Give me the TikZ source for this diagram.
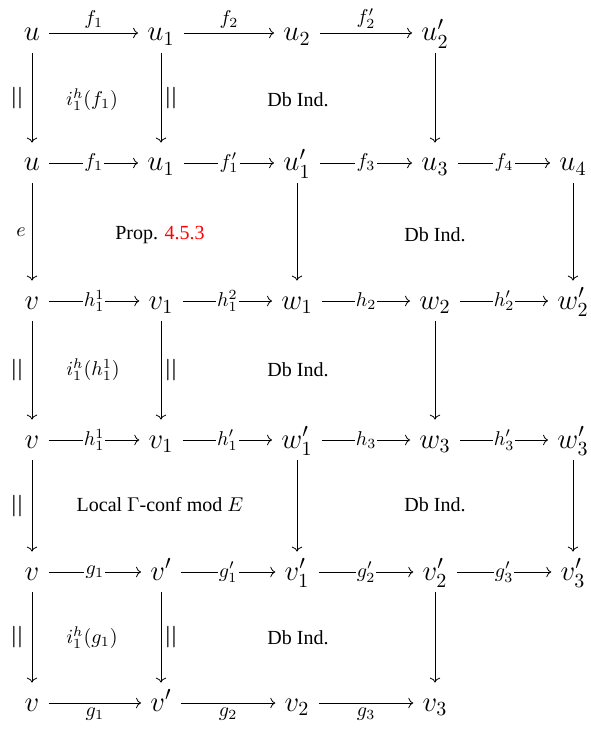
\documentclass[tikz,border=0pt]{standalone}
\usepackage[no-math]{fontspec}
\setmainfont{Liberation Serif}
\usepackage{graphicx}
\usetikzlibrary{arrows.meta}
\definecolor{refRed}{HTML}{FF0000}

\begin{document}
\begin{tikzpicture}[
  x=0.5pt, y=-0.5pt,
  >=To,
  obj/.style={inner xsep=4.5pt, inner ysep=2pt, font=\Large, text height=12pt, text depth=4pt},
  map/.style={->, thin},
  onlab/.style={fill=white, inner sep=0.6pt, font=\normalsize},
  offlab/.style={inner sep=2pt, font=\normalsize},
  eqlab/.style={inner sep=3pt, font=\LARGE},
  cell/.style={font=\normalsize}
]
\useasboundingbox (0,0) rectangle (590,731);

% row 0
\node[obj] (u0)  at (32,33)  {$u$};
\node[obj] (u1a) at (161,33) {$u_1$};
\node[obj] (u2)  at (297,33) {$u_2$};
\node[obj] (u2p) at (435,33) {$u_2'$};
% row 1
\node[obj] (u0b) at (32,163)  {$u$};
\node[obj] (u1b) at (161,163) {$u_1$};
\node[obj] (u1p) at (297,163) {$u_1'$};
\node[obj] (u3)  at (435,163) {$u_3$};
\node[obj] (u4)  at (573,163) {$u_4$};
% row 2
\node[obj] (v0)  at (32,301)  {$v$};
\node[obj] (v1)  at (161,301) {$v_1$};
\node[obj] (w1)  at (297,301) {$w_1$};
\node[obj] (w2)  at (435,301) {$w_2$};
\node[obj] (w2p) at (573,301) {$w_2'$};
% row 3
\node[obj] (v0b) at (32,440)  {$v$};
\node[obj] (v1b) at (161,440) {$v_1$};
\node[obj] (w1p) at (297,440) {$w_1'$};
\node[obj] (w3)  at (435,440) {$w_3$};
\node[obj] (w3p) at (573,440) {$w_3'$};
% row 4
\node[obj] (v0c) at (32,572)  {$v$};
\node[obj] (vp)  at (161,572) {$v'$};
\node[obj] (v1q) at (297,572) {$v_1'$};
\node[obj] (v2q) at (435,572) {$v_2'$};
\node[obj] (v3q) at (573,572) {$v_3'$};
% row 5
\node[obj] (v0d) at (32,703)  {$v$};
\node[obj] (vpb) at (161,703) {$v'$};
\node[obj] (v2)  at (297,703) {$v_2$};
\node[obj] (v3)  at (435,703) {$v_3$};

% cells
\node[cell] (c1) at (92,100)  {$i_1^h(f_1)$};
\node[cell] (c2) at (298,100) {Db Ind.};
\node[cell] (c3) at (160,235) {Prop. \textcolor{refRed}{4.5.3}};
\node[cell] (c4) at (435,235) {Db Ind.};
\node[cell] (c5) at (93,370)  {$i_1^h(h_1^1)$};
\node[cell] (c6) at (298,370) {Db Ind.};
\node[cell] (c7) at (160,505) {Local $\Gamma$-conf mod $E$};
\node[cell] (c8) at (435,505) {Db Ind.};
\node[cell] (c9) at (92,638)  {$i_1^h(g_1)$};
\node[cell] (c10) at (298,638) {Db Ind.};

% horizontal maps
\draw[map] (u0) -- node[above, offlab]{$f_1$} (u1a);
\draw[map] (u1a) -- node[above, offlab]{$f_2$} (u2);
\draw[map] (u2) -- node[above, offlab]{$f_2'$} (u2p);

\draw[map] (u0b) -- node[onlab]{$f_1$} (u1b);
\draw[map] (u1b) -- node[onlab]{$f_1'$} (u1p);
\draw[map] (u1p) -- node[onlab]{$f_3$} (u3);
\draw[map] (u3) -- node[onlab]{$f_4$} (u4);

\draw[map] (v0) -- node[onlab]{$h_1^1$} (v1);
\draw[map] (v1) -- node[onlab]{$h_1^2$} (w1);
\draw[map] (w1) -- node[onlab]{$h_2$} (w2);
\draw[map] (w2) -- node[onlab]{$h_2'$} (w2p);

\draw[map] (v0b) -- node[onlab]{$h_1^1$} (v1b);
\draw[map] (v1b) -- node[onlab]{$h_1'$} (w1p);
\draw[map] (w1p) -- node[onlab]{$h_3$} (w3);
\draw[map] (w3) -- node[onlab]{$h_3'$} (w3p);

\draw[map] (v0c) -- node[onlab]{$g_1$} (vp);
\draw[map] (vp) -- node[onlab]{$g_1'$} (v1q);
\draw[map] (v1q) -- node[onlab]{$g_2'$} (v2q);
\draw[map] (v2q) -- node[onlab]{$g_3'$} (v3q);

\draw[map] (v0d) -- node[below, offlab]{$g_1$} (vpb);
\draw[map] (vpb) -- node[below, offlab]{$g_2$} (v2);
\draw[map] (v2) -- node[below, offlab]{$g_3$} (v3);

% vertical maps
\draw[map] (u0) -- node[left, eqlab]{\rotatebox{90}{$=$}} (u0b);
\draw[map] (u0b) -- node[left, eqlab, font=\normalsize]{$e$} (v0);
\draw[map] (v0) -- node[left, eqlab]{\rotatebox{90}{$=$}} (v0b);
\draw[map] (v0b) -- node[left, eqlab]{\rotatebox{90}{$=$}} (v0c);
\draw[map] (v0c) -- node[left, eqlab]{\rotatebox{90}{$=$}} (v0d);

\draw[map] (u1a) -- node[right, eqlab]{\rotatebox{90}{$=$}} (u1b);
\draw[map] (v1) -- node[right, eqlab]{\rotatebox{90}{$=$}} (v1b);
\draw[map] (vp) -- node[right, eqlab]{\rotatebox{90}{$=$}} (vpb);

\draw[map] (u1p) -- (w1);
\draw[map] (w1p) -- (v1q);
\draw[map] (u2p) -- (u3);
\draw[map] (w2) -- (w3);
\draw[map] (v2q) -- (v3);
\draw[map] (u4) -- (w2p);
\draw[map] (w3p) -- (v3q);

\end{tikzpicture}
\end{document}
